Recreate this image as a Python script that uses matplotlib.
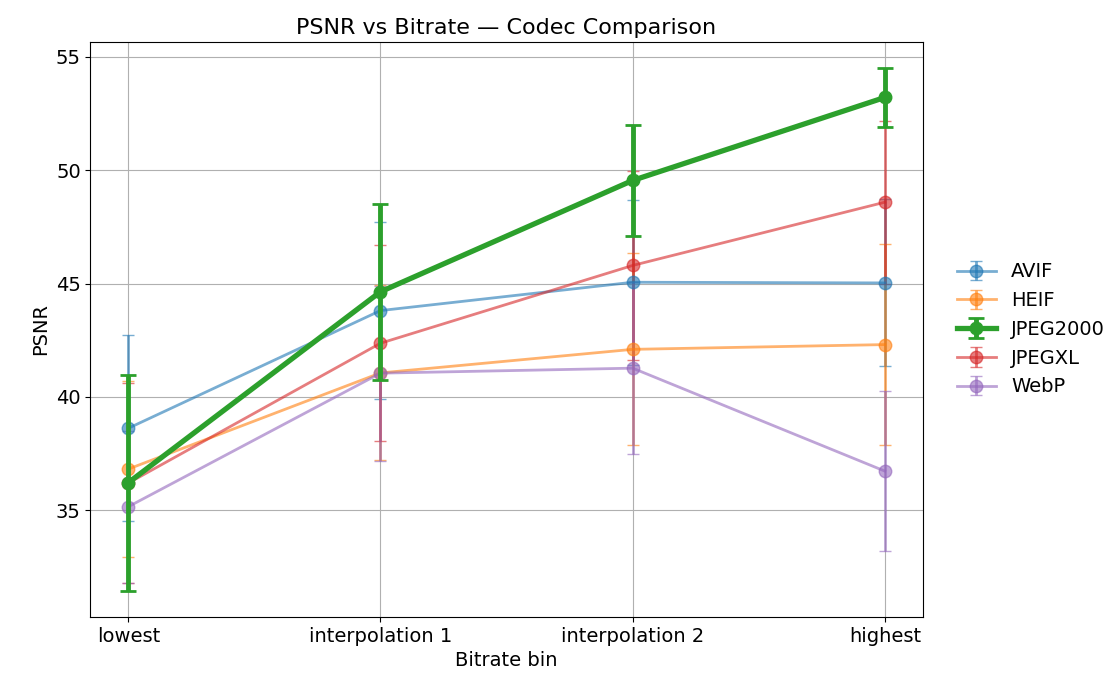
import numpy as np
import matplotlib.pyplot as plt

bins = ["lowest", "interpolation 1", "interpolation 2", "highest"]
codecs = ["AVIF", "HEIF", "JPEG2000", "JPEGXL", "WebP"]

avif_mean = [38.62, 43.81, 45.06, 45.03]
avif_err = [4.1, 3.92, 3.64, 3.68]
heif_mean = [36.82, 41.06, 42.10, 42.31]
heif_err = [3.87, 3.86, 4.23, 4.42]
j2k_mean = [36.22, 44.64, 49.55, 53.21]
j2k_err = [4.77, 3.87, 2.44, 1.3]
jxl_mean = [36.2, 42.37, 45.8, 48.59]
jxl_err = [4.4, 4.32, 4.18, 3.6]
webp_mean = [35.16, 41.05, 41.27, 36.73]
webp_err = [3.36, 3.86, 3.8, 3.53]

means = [avif_mean, heif_mean, j2k_mean, jxl_mean, webp_mean]
errs = [avif_err, heif_err, j2k_err, jxl_err, webp_err]
colors = ["tab:blue", "tab:orange", "tab:green", "tab:red", "tab:purple"]

x = np.arange(len(bins))
fig, ax = plt.subplots(figsize=(11.17, 6.75), dpi=100)
for name, m, e, c in zip(codecs, means, errs, colors):
    if name == "JPEG2000":
        ax.errorbar(x, m, yerr=e, label=name, color=c, marker="o", lw=3.8,
                    ms=9, capsize=6, elinewidth=3.5, capthick=2, zorder=5)
    else:
        ax.errorbar(x, m, yerr=e, label=name, color=c, marker="o", lw=2,
                    ms=9, capsize=4.5, alpha=0.6)

ax.set_xticks(x)
ax.set_xticklabels(bins, fontsize=14)
ax.tick_params(axis="y", labelsize=14)
ax.set_yticks([35, 40, 45, 50, 55])
ax.set_xlabel("Bitrate bin", fontsize=14)
ax.set_ylabel("PSNR", fontsize=14)
ax.set_title("PSNR vs Bitrate — Codec Comparison", fontsize=16)
ax.grid(True)
ax.legend(loc="center left", bbox_to_anchor=(1.02, 0.5), frameon=False, fontsize=14)
fig.subplots_adjust(left=0.081, right=0.826, top=0.938, bottom=0.086)
fig.savefig("out.png")
